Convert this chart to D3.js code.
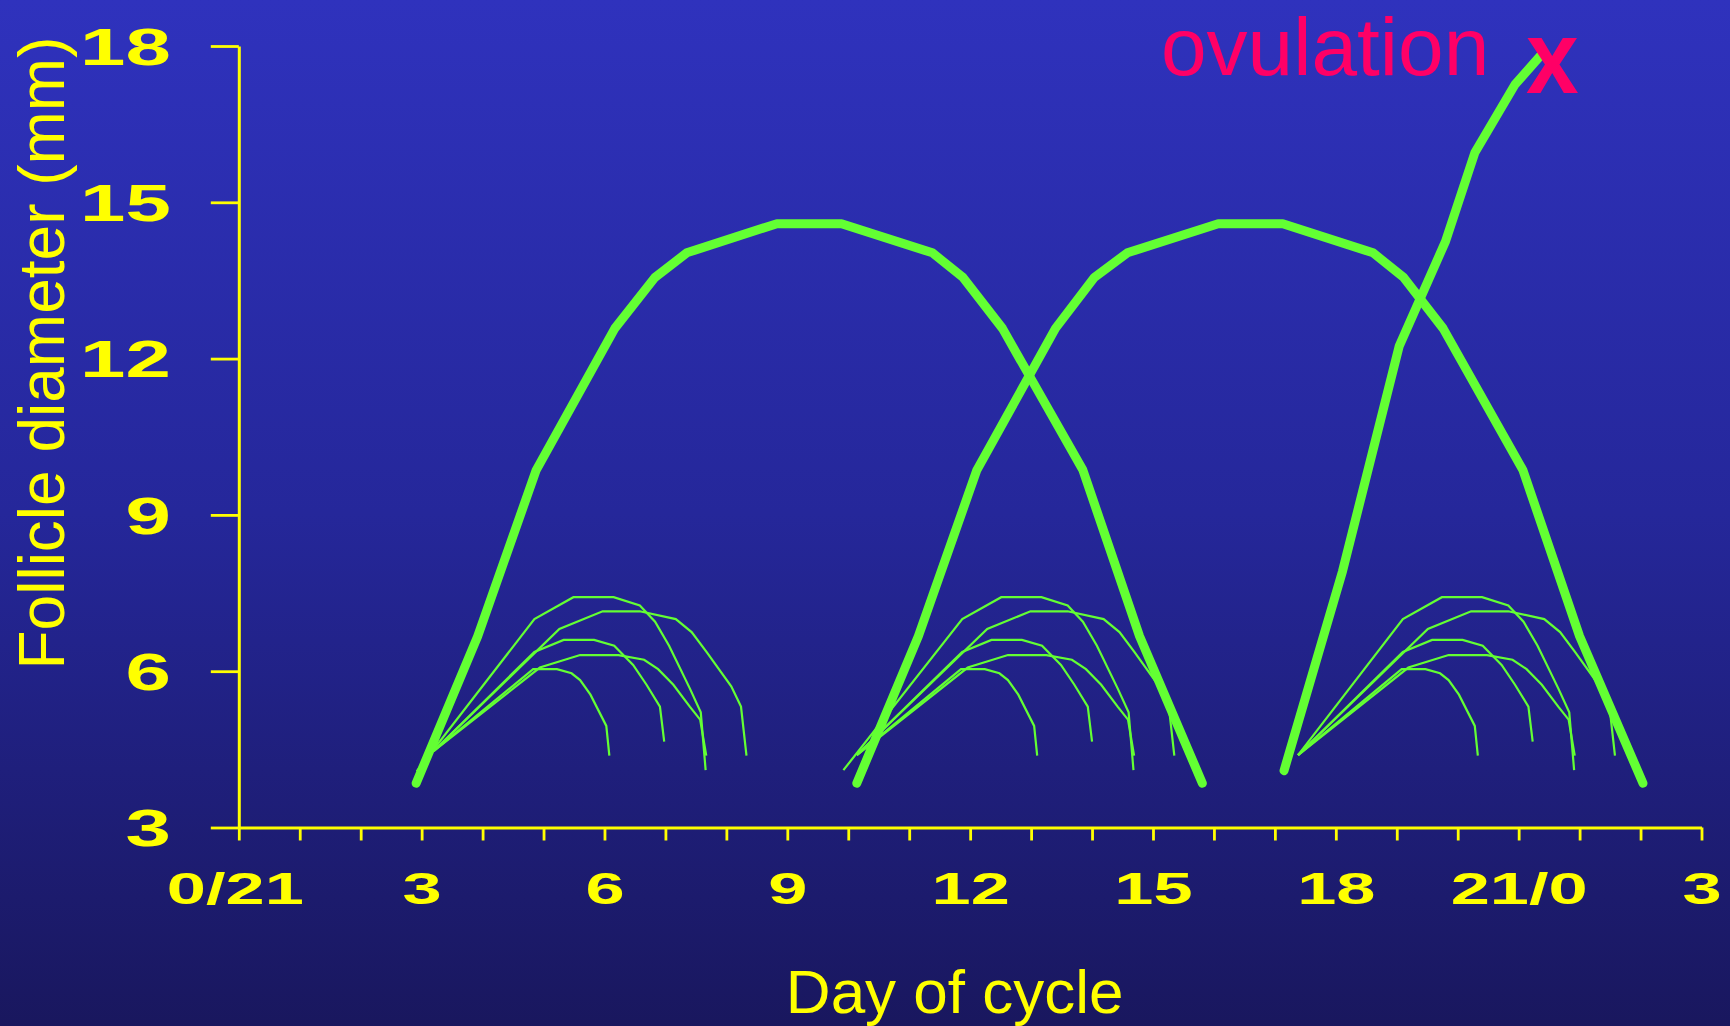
<!DOCTYPE html>
<html>
<head>
<meta charset="utf-8">
<script src="https://cdn.jsdelivr.net/npm/d3@7"></script>
<style>
  html, body { margin: 0; padding: 0; overflow: hidden; background: #1a1860; }
  svg { display: block; }
  text { font-family: "Liberation Sans", Arial, Helvetica, sans-serif; }
</style>
</head>
<body>
<svg id="chart" width="1730" height="1026"></svg>
<script>
// ---------------- DATA ----------------
// Dominant follicles (thick lines): [day, diameter mm]
const dominant1 = [[2.91,3.85],[3.92,6.67],[4.88,9.86],[6.17,12.58],[6.83,13.56],[7.35,14.03],[8.83,14.59],[9.89,14.59],[11.38,14.03],[11.88,13.56],[12.53,12.58],[13.85,9.86],[14.78,6.67],[15.81,3.85]];
const dominant2 = [[10.14,3.85],[11.15,6.67],[12.11,9.86],[13.40,12.58],[14.04,13.56],[14.58,14.03],[16.07,14.59],[17.13,14.59],[18.61,14.03],[19.11,13.56],[19.76,12.58],[21.07,9.86],[22.00,6.67],[23.04,3.85]];
const ovulatory  = [[17.15,4.09],[18.11,7.92],[19.04,12.24],[19.80,14.25],[20.28,15.95],[20.94,17.26],[21.40,17.87]];

// Subordinate follicles (thin lines), wave 1
const wave1Sub1 = [[2.92,4.08],[4.85,7.00],[5.49,7.42],[6.15,7.42],[6.58,7.26],[6.83,6.95],[7.06,6.49],[7.40,5.67],[7.58,5.21],[7.66,4.10]];
const wave1Sub2 = [[3.20,4.47],[5.26,6.81],[5.97,7.15],[6.58,7.15],[7.17,7.00],[7.43,6.75],[7.68,6.36],[8.08,5.71],[8.24,5.32],[8.33,4.38]];
const wave1Sub3 = [[3.20,4.47],[4.85,6.37],[5.33,6.60],[5.83,6.60],[6.16,6.49],[6.47,6.12],[6.69,5.74],[6.91,5.32],[6.98,4.65]];
const wave1Sub4 = [[3.20,4.47],[4.94,6.07],[5.60,6.31],[6.23,6.31],[6.65,6.22],[6.88,6.04],[7.13,5.74],[7.40,5.32],[7.57,5.07],[7.67,4.38]];
const wave1Sub5 = [[3.20,4.47],[4.83,6.04],[5.22,6.04],[5.46,5.96],[5.60,5.83],[5.77,5.55],[6.03,4.95],[6.08,4.38]];

// wave 2
const wave2Sub1 = [[9.92,4.10],[11.87,7.00],[12.51,7.42],[13.17,7.42],[13.60,7.26],[13.85,6.95],[14.08,6.49],[14.42,5.67],[14.60,5.21],[14.68,4.10]];
const wave2Sub2 = [[10.14,4.39],[12.28,6.81],[12.99,7.15],[13.60,7.15],[14.19,7.00],[14.45,6.75],[14.70,6.36],[15.10,5.71],[15.26,5.32],[15.35,4.38]];
const wave2Sub3 = [[10.14,4.39],[11.87,6.37],[12.35,6.60],[12.85,6.60],[13.18,6.49],[13.49,6.12],[13.71,5.74],[13.93,5.32],[14.00,4.65]];
const wave2Sub4 = [[10.14,4.39],[11.96,6.07],[12.62,6.31],[13.25,6.31],[13.67,6.22],[13.90,6.04],[14.15,5.74],[14.42,5.32],[14.59,5.07],[14.69,4.38]];
const wave2Sub5 = [[10.14,4.39],[11.85,6.04],[12.24,6.04],[12.48,5.96],[12.62,5.83],[12.79,5.55],[13.05,4.95],[13.10,4.38]];

// wave 3
const wave3Sub1 = [[17.38,4.39],[19.10,7.00],[19.74,7.42],[20.40,7.42],[20.83,7.26],[21.08,6.95],[21.31,6.49],[21.65,5.67],[21.83,5.21],[21.91,4.10]];
const wave3Sub2 = [[17.38,4.39],[19.51,6.81],[20.22,7.15],[20.83,7.15],[21.42,7.00],[21.68,6.75],[21.93,6.36],[22.33,5.71],[22.49,5.32],[22.58,4.38]];
const wave3Sub3 = [[17.38,4.39],[19.10,6.37],[19.58,6.60],[20.08,6.60],[20.41,6.49],[20.72,6.12],[20.94,5.74],[21.16,5.32],[21.23,4.65]];
const wave3Sub4 = [[17.38,4.39],[19.19,6.07],[19.85,6.31],[20.48,6.31],[20.90,6.22],[21.13,6.04],[21.38,5.74],[21.65,5.32],[21.82,5.07],[21.92,4.38]];
const wave3Sub5 = [[17.38,4.39],[19.08,6.04],[19.47,6.04],[19.71,5.96],[19.85,5.83],[20.02,5.55],[20.28,4.95],[20.33,4.38]];

// Axes
const xMinorTicks = [0,1,2,3,4,5,6,7,8,9,10,11,12,13,14,15,16,17,18,19,20,21,22,23,24];
const xLabelDays  = [0,3,6,9,12,15,18,21,24];
const xLabelText  = ["0/21","3","6","9","12","15","18","21/0","3"];
const yTicks      = [3,6,9,12,15,18];

const xTitle = "Day of cycle";
const yTitle = "Follicle diameter (mm)";
const annotation = "ovulation";
const annotationMark = "x";

// ---------------- DRAW ----------------
const W = 1730, H = 1026;
const svg = d3.select("#chart");

const defs = svg.append("defs");
const grad = defs.append("linearGradient").attr("id","bg").attr("x1",0).attr("y1",0).attr("x2",0).attr("y2",1);
grad.append("stop").attr("offset","0%").attr("stop-color","#2f32bd");
grad.append("stop").attr("offset","50%").attr("stop-color","#25279a");
grad.append("stop").attr("offset","100%").attr("stop-color","#19175e");
svg.append("rect").attr("width",W).attr("height",H).attr("fill","url(#bg)");

const x = d3.scaleLinear().domain([0,24]).range([238.8,1701.5]);
const y = d3.scaleLinear().domain([3,18]).range([827.5,46]);

const YELLOW = "#ffff00";
const GREEN = "#63ff33";

// X axis
const labelMap = new Map(xLabelDays.map((d,i)=>[d,xLabelText[i]]));
const gx = svg.append("g")
  .attr("transform",`translate(0,${y(3)})`)
  .call(d3.axisBottom(x).tickValues(xMinorTicks).tickSize(13).tickSizeOuter(0)
        .tickFormat(d => labelMap.has(d) ? labelMap.get(d) : ""));
gx.select(".domain").attr("stroke",YELLOW).attr("stroke-width",3);
gx.selectAll(".tick line").attr("stroke",YELLOW).attr("stroke-width",2.8);
gx.selectAll(".tick text")
  .attr("fill",YELLOW).attr("y",0).attr("dy",0)
  .attr("transform",d => `translate(${d===0?-4:0},76) scale(1.6,1)`)
  .attr("text-anchor","middle")
  .style("font-size","44px").style("font-weight","bold")
  .style("font-family",'"Liberation Sans", Arial, sans-serif');

// Y axis
const gy = svg.append("g")
  .attr("transform",`translate(${x(0)},0)`)
  .call(d3.axisLeft(y).tickValues(yTicks).tickSize(28).tickSizeOuter(0).tickFormat(d3.format("d")));
gy.select(".domain").attr("stroke",YELLOW).attr("stroke-width",3);
gy.selectAll(".tick line").attr("stroke",YELLOW).attr("stroke-width",2.8);
gy.selectAll(".tick text")
  .attr("fill",YELLOW).attr("x",0).attr("dy","0.36em")
  .attr("transform","translate(-68,0) scale(1.6,1)")
  .attr("text-anchor","end")
  .style("font-size","51px").style("font-weight","bold")
  .style("font-family",'"Liberation Sans", Arial, sans-serif');

// Axis titles
svg.append("text")
  .attr("x",954.7).attr("y",1013.3)
  .attr("text-anchor","middle")
  .attr("fill",YELLOW)
  .style("font-size","62px")
  .text(xTitle);

svg.append("text")
  .attr("transform","translate(64,353) rotate(-90)")
  .attr("text-anchor","middle")
  .attr("fill",YELLOW)
  .style("font-size","64px")
  .text(yTitle);

// Lines
const line = d3.line().x(d=>x(d[0])).y(d=>y(d[1])).curve(d3.curveLinear);

const thinSeries = [wave1Sub1,wave1Sub2,wave1Sub3,wave1Sub4,wave1Sub5,
                    wave2Sub1,wave2Sub2,wave2Sub3,wave2Sub4,wave2Sub5,
                    wave3Sub1,wave3Sub2,wave3Sub3,wave3Sub4,wave3Sub5];
svg.append("g").selectAll("path").data(thinSeries).join("path")
  .attr("d",line)
  .attr("fill","none")
  .attr("stroke",GREEN)
  .attr("stroke-width",2.2)
  .attr("stroke-linejoin","miter");

const thickSeries = [dominant1,dominant2,ovulatory];
svg.append("g").selectAll("path").data(thickSeries).join("path")
  .attr("d",line)
  .attr("fill","none")
  .attr("stroke",GREEN)
  .attr("stroke-width",9)
  .attr("stroke-linejoin","round")
  .attr("stroke-linecap","round");

// Annotation
svg.append("text")
  .attr("x",1161).attr("y",74.5)
  .attr("fill","#ff0066")
  .style("font-size","82px")
  .text(annotation);
svg.append("text")
  .attr("transform","translate(1526,93) scale(0.92,1)")
  .attr("fill","#ff0066")
  .style("font-size","103px").style("font-weight","bold")
  .text(annotationMark);
</script>
</body>
</html>
